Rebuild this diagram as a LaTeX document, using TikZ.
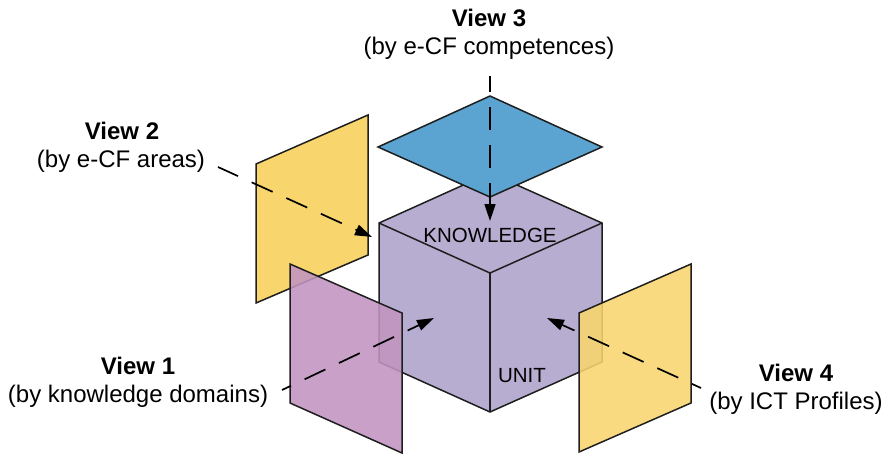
\documentclass[tikz,border=0pt]{standalone}
\usepackage{fontspec}
\setmainfont{Liberation Sans}
\usetikzlibrary{arrows.meta}
\definecolor{cubefill}{RGB}{183,173,208}
\definecolor{bluefill}{RGB}{91,163,208}
\definecolor{yellowfill}{RGB}{249,213,110}
\definecolor{pinkfill}{RGB}{194,148,192}
\definecolor{edgecol}{RGB}{30,30,30}
\tikzset{
  face/.style={draw=edgecol, line width=1.5pt, line join=miter},
  panel/.style={face, fill opacity=0.88, draw opacity=1},
  viewarrow/.style={draw=black, line width=1.7pt, dash pattern=on 23pt off 15pt,
    -{Triangle[length=17pt,width=11pt]}},
  viewtitle/.style={font=\bfseries\fontsize{24}{28}\selectfont, anchor=base, inner sep=0pt},
  viewsub/.style={font=\fontsize{24}{28}\selectfont, anchor=base, inner sep=0pt},
  facetext/.style={font=\fontsize{20.5}{24}\selectfont, anchor=base, inner sep=0pt}
}
\begin{document}
\begin{tikzpicture}[x=1pt,y=-1pt]
\useasboundingbox (0,0) rectangle (884,453);
% upper-left yellow panel (view 2)
\draw[face, fill=yellowfill] (256,164) -- (368,115) -- (368,255) -- (256,303) -- cycle;
% cube
\draw[face, fill=cubefill] (379,223) -- (490,173) -- (602,223) -- (602,362) -- (490,412) -- (379,362) -- cycle;
\draw[face] (379,223) -- (490,273) -- (602,223);
\draw[face] (490,273) -- (490,412);
\node[facetext] (know) at (490,242) {KNOWLEDGE};
\node[facetext] (unit) at (522,382) {UNIT};
% top diamond (view 3)
\draw[face, fill=bluefill] (378,147) -- (490,96) -- (602,147) -- (490,197) -- cycle;
% lower-left pink panel (view 1)
\draw[panel, fill=pinkfill] (290,264) -- (402,313) -- (402,453) -- (290,403) -- cycle;
% right yellow panel (view 4)
\draw[panel, fill=yellowfill] (579,313) -- (691,264) -- (691,403) -- (579,452) -- cycle;
% labels
\node[viewtitle] (t3) at (489,26) {View 3};
\node[viewsub] (s3) at (489,54) {(by e-CF competences)};
\node[viewtitle] (t2) at (122,139) {View 2};
\node[viewsub] (s2) at (121,167) {(by e-CF areas)};
\node[viewtitle] (t1) at (138,374) {View 1};
\node[viewsub] (s1) at (138,402) {(by knowledge domains)};
\node[viewtitle] (t4) at (796,381) {View 4};
\node[viewsub] (s4) at (796,409) {(by ICT Profiles)};
% connector end points
\coordinate (a3s) at (490,76);
\coordinate (a3e) at (490,221);
\coordinate (a2s) at (218,167);
\coordinate (a2e) at (372,237);
\coordinate (a1s) at (282,390);
\coordinate (a1e) at (434,318);
\coordinate (a4s) at (701,388);
\coordinate (a4e) at (547,318);
% arrows
\draw[viewarrow, dash phase=7pt] (a3s) -- (a3e);
\draw[viewarrow, dash phase=1pt] (a2s) -- (a2e);
\draw[viewarrow, dash phase=13pt] (a1s) -- (a1e);
\draw[viewarrow, dash phase=13pt] (a4s) -- (a4e);
\end{tikzpicture}
\end{document}
